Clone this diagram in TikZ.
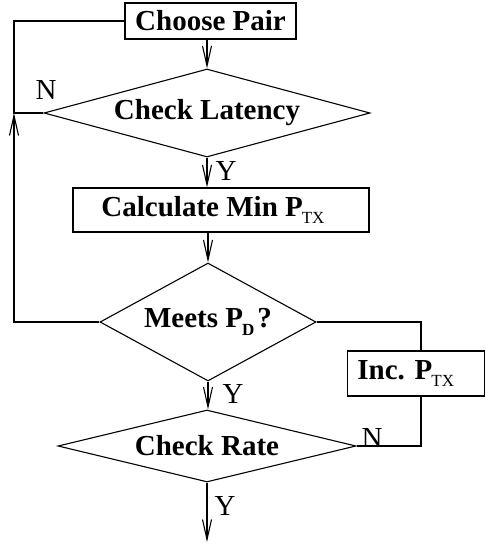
\documentclass[tikz,border=0pt]{standalone}
\usepackage{fontspec}
\setmainfont{Liberation Serif}
\usetikzlibrary{shapes.geometric,arrows.meta}
\newcommand\mysub[1]{\hspace{-1pt}\raisebox{-7.5pt}{\fontsize{17}{17}\selectfont #1}}
\begin{document}
\begin{tikzpicture}[x=1pt,y=-1pt,
  line width=1.1pt,
  lbl/.style={font=\fontsize{29}{30}\selectfont\bfseries},
  ylab/.style={font=\fontsize{29}{30}\selectfont, inner sep=0pt, anchor=base west},
  boxnode/.style={draw, rectangle, inner sep=0pt, lbl},
  decision/.style={draw, diamond, inner sep=0pt, lbl},
  arr/.style={-{Straight Barb[length=20pt,width=9pt,line width=1.1pt]}}]
\useasboundingbox (0,0) rectangle (485,548);

\node[boxnode, minimum width=171pt, minimum height=36pt] (choose) at (210.5,21) {Choose Pair};
\node[decision, minimum width=326pt, minimum height=88pt, aspect=3.7] (latency) at (207,113) {Check Latency};
\node[boxnode, minimum width=296pt, minimum height=44pt] (calc) at (221,210) {Calculate Min P\mysub{\mdseries TX}\hspace*{16pt}};
\node[decision, minimum width=216pt, minimum height=118pt, aspect=1.83] (meets) at (208,322) {Meets P\mysub{D}\hspace{3pt}?};
\node[boxnode, minimum width=137pt, minimum height=45pt] (inc) at (415.75,373.5) {Inc. P\mysub{\mdseries TX}\hspace*{20pt}};
\node[decision, minimum width=298pt, minimum height=72pt, aspect=4.14] (rate) at (207,446) {Check Rate};

\coordinate (lx) at (14,113);
\coordinate (rx) at (421,322);
\coordinate (endpt) at (207,542);

% main flow
\draw[arr] (choose.south -| latency.north) -- (latency.north);
\draw[arr] (latency.south) -- (latency.south |- calc.north);
\draw[arr] (calc.south -| meets.north) -- (meets.north);
\draw[arr] (meets.south) -- (meets.south |- rate.north);
\draw[arr] (rate.south) -- (endpt);

% left loop
\draw (latency.west) -- (lx) |- (choose.west);
\draw[arr] (meets.west) -| (lx);

% right loop
\draw (meets.east) -| (rx |- inc.north);
\draw (rx |- inc.south) |- (rate.east);

% labels
\node[ylab] (n1) at (35,100) {N};
\node[ylab] (y1) at (215,180) {Y};
\node[ylab] (y2) at (222,403) {Y};
\node[ylab] (y3) at (214,515) {Y};
\node[ylab] (n2) at (361,447) {N};
\end{tikzpicture}
\end{document}
